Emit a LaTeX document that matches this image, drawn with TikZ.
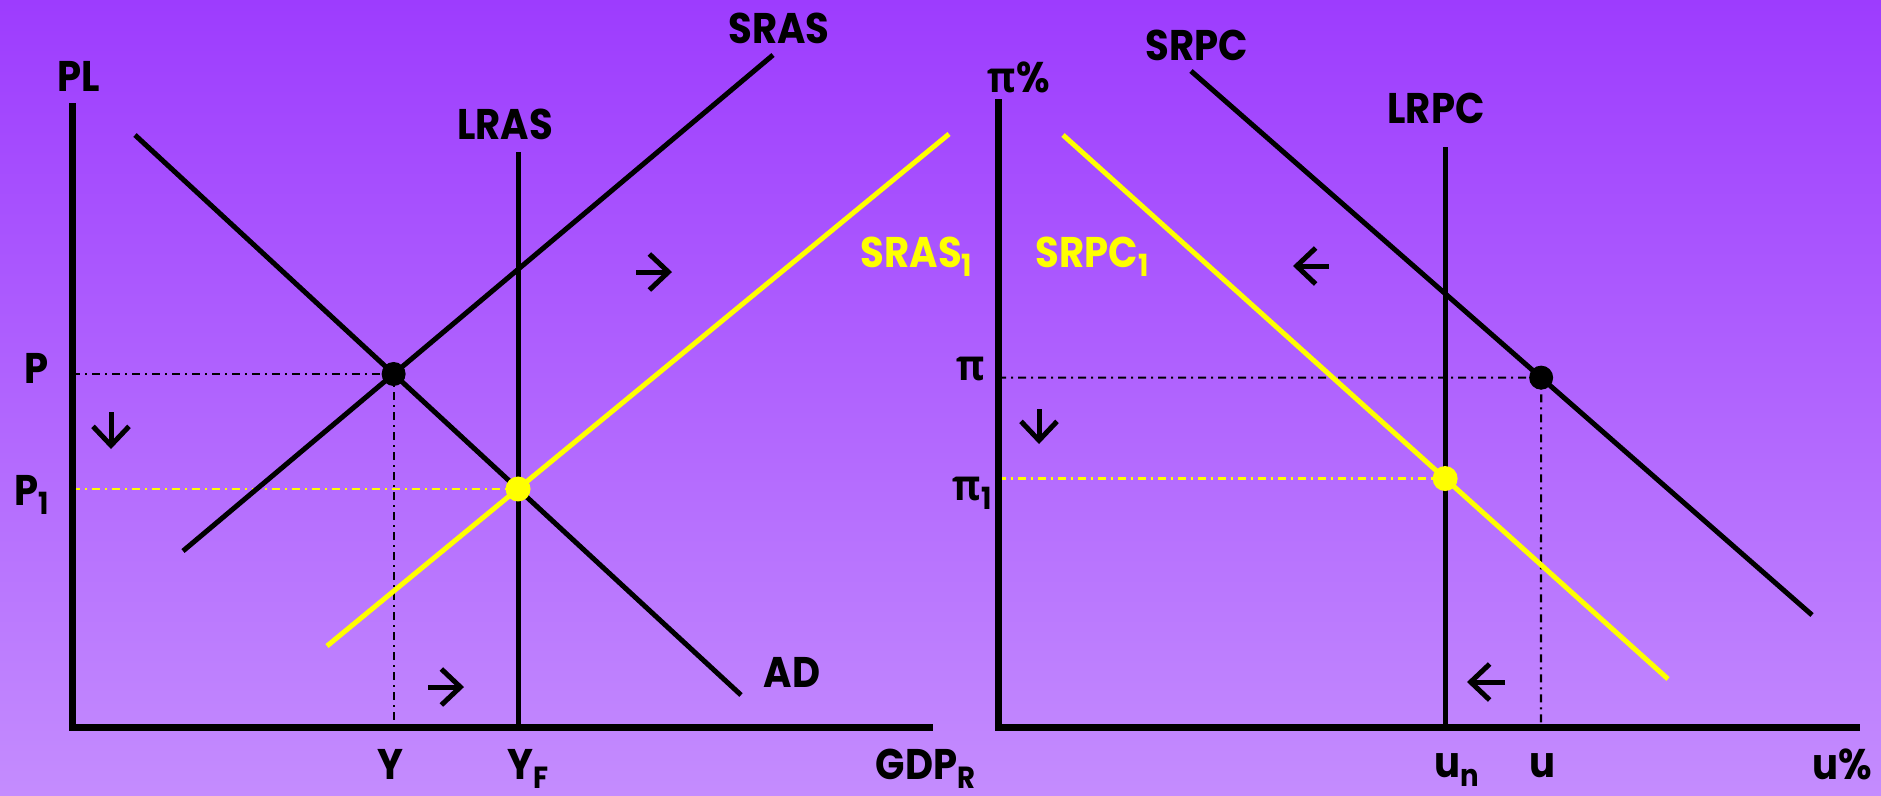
\documentclass[tikz,border=0pt]{standalone}
\usepackage{fontspec}
\setmainfont{Poppins}[FakeStretch=0.9]
\newfontfamily\grk{Open Sans}[FakeStretch=0.9]
\usetikzlibrary{arrows.meta}
\definecolor{bgtop}{RGB}{157,60,254}
\definecolor{bgbot}{RGB}{196,140,254}
\definecolor{yel}{RGB}{255,255,0}
\definecolor{ink}{RGB}{0,0,0}
\newcommand{\lo}[1]{\raisebox{-2.6pt}{\fontsize{8.7}{9}\selectfont #1}}

\begin{document}
\begin{tikzpicture}[
  x=0.1mm, y=-0.1mm,
  font=\fontsize{12.2}{14}\selectfont\bfseries, ink,
  every node/.style={inner sep=0pt},
  axis/.style={line width=0.7mm, line join=miter},
  curve/.style={line width=0.5mm},
  guide/.style={line width=0.22mm, dash pattern=on 0.8mm off 0.5mm on 0.2mm off 0.5mm},
  shiftarr/.style={line width=0.5mm, -{Straight Barb[length=1.9mm,width=3.6mm]}},
  dot/.style={circle, minimum size=2.4mm, inner sep=0pt},
  lab/.style={anchor=base},
  labw/.style={anchor=base west},
]
\shade[top color=bgtop, bottom color=bgbot] (0,0) rectangle (1881,795);
\useasboundingbox (0,0) rectangle (1881,795);

%% =========================================================
%% Left panel --- AS/AD
%% =========================================================
\coordinate (O1) at (72,727);
\coordinate (ytop1) at (72,103);
\coordinate (xend1) at (933,727);
\coordinate (adA) at (135,135);
\coordinate (adB) at (741,695);
\coordinate (srasA) at (183,551);
\coordinate (srasB) at (773,55);
\coordinate (lrasT) at (518,152);
\coordinate (lrasB) at (518,727);
\coordinate (srasoneA) at (327,646);
\coordinate (srasoneB) at (949,134);
\coordinate (eqA) at (intersection of adA--adB and srasA--srasB);
\coordinate (eqB) at (intersection of adA--adB and lrasT--lrasB);

\draw[guide] (O1 |- eqA) -- (eqA) -- (eqA |- O1);
\draw[guide, yel] (O1 |- eqB) -- (eqB);

\draw[curve] (adA) -- (adB);
\draw[curve] (srasA) -- (srasB);
\draw[curve] (lrasT) -- (lrasB);
\draw[curve, yel] (srasoneA) -- (srasoneB);
\draw[axis] (ytop1) -- (O1) -- (xend1);

\node[dot, fill=ink] (ptA) at (eqA) {};
\node[dot, fill=yel, minimum size=2.5mm] (ptB) at (eqB) {};

\node[lab] (PL) at (79,91) {PL};
\node[lab] (SRAS) at (779,43) {SRAS};
\node[lab] (LRAS) at (505,139) {LRAS};
\node[labw, yel] (SRASone) at (860,267) {SRAS\lo{1}};
\node[lab] (AD) at (792,687) {AD};
\node[lab] (P) at (37,383) {P};
\node[labw] (Pone) at (14,505) {P\lo{1}};
\node[lab] (Y) at (390,779) {Y};
\node[labw] (YF) at (507,779) {Y\lo{F}};
\node[labw] (GDP) at (875,779) {GDP\lo{R}};

%% shift arrows
\coordinate (dnA) at (111,412);   \coordinate (dnB) at (111,449);
\coordinate (rtA) at (636,272);   \coordinate (rtB) at (672,272);
\coordinate (rlA) at (428,687);   \coordinate (rlB) at (464,687);
\draw[shiftarr] (dnA) -- (dnB);
\draw[shiftarr] (rtA) -- (rtB);
\draw[shiftarr] (rlA) -- (rlB);

%% =========================================================
%% Right panel --- Phillips curve
%% =========================================================
\coordinate (O2) at (998,727);
\coordinate (ytop2) at (998,99);
\coordinate (xend2) at (1860,727);
\coordinate (srpcA) at (1191,71);
\coordinate (srpcB) at (1812,615);
\coordinate (lrpcT) at (1445,147);
\coordinate (lrpcB) at (1445,727);
\coordinate (srpconeA) at (1063,135);
\coordinate (srpconeB) at (1668,679);
\coordinate (uB) at (1541,727);
\coordinate (uT) at (1541,100);
\coordinate (eqC) at (intersection of srpcA--srpcB and uT--uB);
\coordinate (eqD) at (intersection of srpconeA--srpconeB and lrpcT--lrpcB);

\draw[guide] (O2 |- eqC) -- (eqC) -- (uB);
\draw[guide, yel] (O2 |- eqD) -- (eqD);

\draw[curve] (srpcA) -- (srpcB);
\draw[curve] (lrpcT) -- (lrpcB);
\draw[curve, yel] (srpconeA) -- (srpconeB);
\draw[axis] (ytop2) -- (O2) -- (xend2);

\node[dot, fill=ink] (ptC) at (eqC) {};
\node[dot, fill=yel, minimum size=2.5mm] (ptD) at (eqD) {};

\node[lab] (infl) at (1019,92) {{\grk π}\%};
\node[lab] (SRPC) at (1197,60) {SRPC};
\node[lab] (LRPC) at (1436,123) {LRPC};
\node[labw, yel] (SRPCone) at (1035,267) {SRPC\lo{1}};
\node[labw] (pi) at (956,380) {\grk π};
\node[labw] (pione) at (952,500) {{\grk π}\lo{1}};
\node[labw] (un) at (1434,777) {u\lo{n}};
\node[lab] (u) at (1542,777) {u};
\node[lab] (upct) at (1842,779) {u\%};

%% shift arrows
\coordinate (dn2A) at (1039,409);  \coordinate (dn2B) at (1039,444);
\coordinate (ltA) at (1329,266);   \coordinate (ltB) at (1293,266);
\coordinate (llA) at (1505,682);   \coordinate (llB) at (1467,682);
\draw[shiftarr] (dn2A) -- (dn2B);
\draw[shiftarr] (ltA) -- (ltB);
\draw[shiftarr] (llA) -- (llB);

\end{tikzpicture}
\end{document}
